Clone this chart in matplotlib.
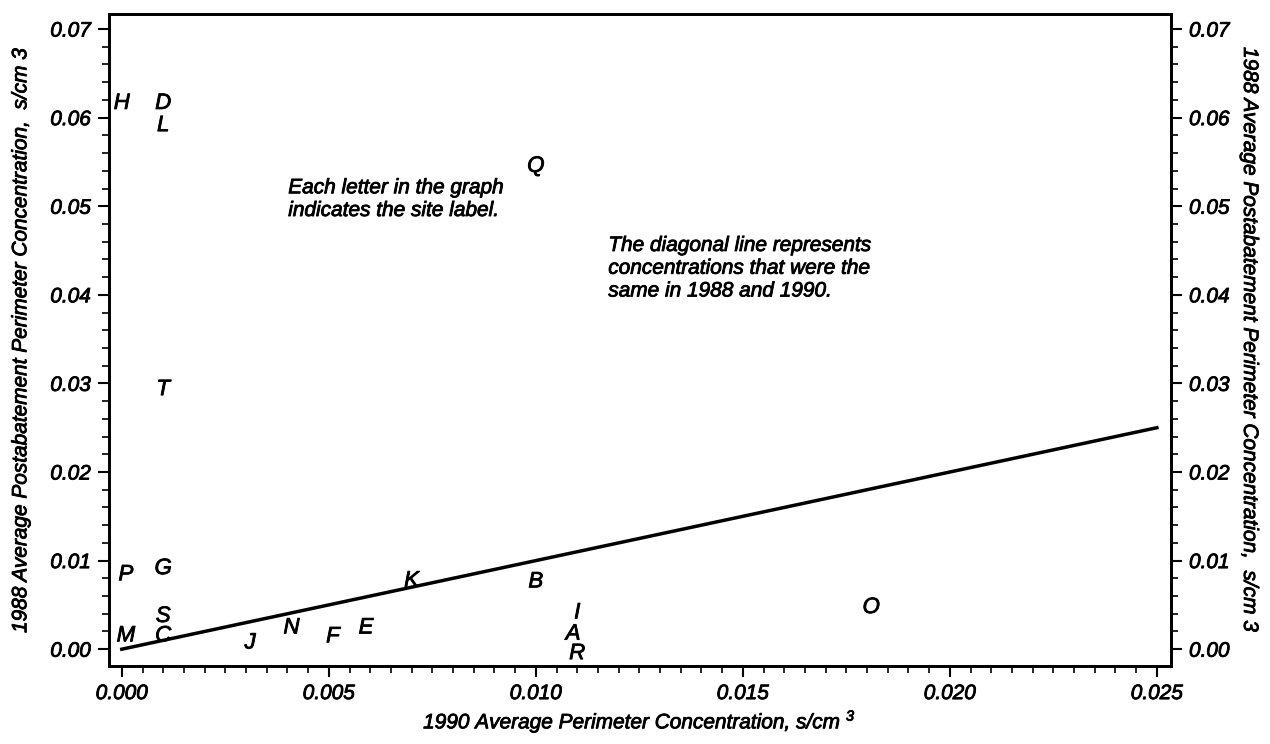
import matplotlib
matplotlib.use("Agg")
import matplotlib.pyplot as plt
import matplotlib.patheffects as pe
from matplotlib.ticker import MultipleLocator, FormatStrFormatter

plt.rcParams['font.family'] = ['Liberation Sans', 'DejaVu Sans']
plt.rcParams['font.style'] = 'italic'
plt.rcParams['mathtext.fontset'] = 'custom'
plt.rcParams['mathtext.rm'] = 'Liberation Sans:italic'
plt.rcParams['mathtext.it'] = 'Liberation Sans:italic'

# Site labels and concentrations (s/cm^3)
sites = ['H', 'D', 'L', 'Q', 'T', 'G', 'P', 'K', 'B', 'S', 'I', 'O',
         'M', 'C', 'N', 'E', 'F', 'J', 'A', 'R']
conc_1990 = [0.0000, 0.0010, 0.0010, 0.0100, 0.0010, 0.0010, 0.0001, 0.0070,
             0.0100, 0.0010, 0.0110, 0.0181, 0.0001, 0.0010, 0.0041, 0.0059,
             0.0051, 0.0031, 0.0109, 0.0110]
conc_1988 = [0.0616, 0.0616, 0.0591, 0.0545, 0.0293, 0.0091, 0.0084, 0.0077,
             0.0076, 0.0037, 0.0041, 0.0047, 0.0015, 0.0015, 0.0024, 0.0024,
             0.0014, 0.0007, 0.0017, -0.0005]
diag_x = [0.0, 0.025]
diag_y = [0.0, 0.025]

x_ticks = [0.000, 0.005, 0.010, 0.015, 0.020, 0.025]
y_ticks = [0.00, 0.01, 0.02, 0.03, 0.04, 0.05, 0.06, 0.07]

thick = [pe.withStroke(linewidth=0.6, foreground='black')]
FS = 15

fig = plt.figure(figsize=(12.7, 7.44), dpi=100)
ax = fig.add_axes([0.0858, 0.1048, 0.922 - 0.0858, 0.9812 - 0.1048])

ax.plot(diag_x, diag_y, color='black', lw=2.5)
for s, xv, yv in zip(sites, conc_1990, conc_1988):
    ax.text(xv, yv, s, fontsize=16, ha='center', va='center', color='black',
            path_effects=thick)

ax.set_xlim(-0.00031, 0.02534)
ax.set_ylim(-0.0019, 0.0717)
ax.set_xticks(x_ticks)
ax.set_yticks(y_ticks)
ax.xaxis.set_major_formatter(FormatStrFormatter('%.3f'))
ax.yaxis.set_major_formatter(FormatStrFormatter('%.2f'))
ax.xaxis.set_minor_locator(MultipleLocator(0.0005))
ax.yaxis.set_minor_locator(MultipleLocator(0.002))

for sp in ax.spines.values():
    sp.set_linewidth(2)

ax.tick_params(axis='both', which='major', direction='out', length=8, width=1.5,
               labelsize=FS, pad=5)
ax.tick_params(axis='both', which='minor', direction='out', length=5, width=1.2)
ax.tick_params(top=False, right=False, which='both')

ax2 = ax.twinx()
ax2.set_ylim(ax.get_ylim())
ax2.set_yticks(y_ticks)
ax2.yaxis.set_major_formatter(FormatStrFormatter('%.2f'))
ax2.yaxis.set_minor_locator(MultipleLocator(0.002))
ax2.tick_params(axis='y', which='major', direction='out', length=8, width=1.5,
                labelsize=FS, pad=5)
ax2.tick_params(axis='y', which='minor', direction='out', length=5, width=1.2)
for sp in ax2.spines.values():
    sp.set_linewidth(2)

for lab in ax.get_xticklabels() + ax.get_yticklabels() + ax2.get_yticklabels():
    lab.set_path_effects(thick)

ylab = '1988 Average Postabatement Perimeter Concentration,  s/cm 3'
ax.set_ylabel(ylab, fontsize=FS, path_effects=thick, va='center')
ax.yaxis.set_label_coords(-0.083, 0.5)
ax2.set_ylabel(ylab, fontsize=FS, rotation=270, path_effects=thick, va='center')
ax2.yaxis.set_label_coords(1.074, 0.5)
ax.set_xlabel('1990 Average Perimeter Concentration, s/cm $^{3}$', fontsize=FS,
              labelpad=4, path_effects=thick)

ax.text(0.00402, 0.0508, 'Each letter in the graph\nindicates the site label.',
        fontsize=FS, ha='left', va='center', linespacing=1.25, path_effects=thick)
ax.text(0.01175, 0.0430, 'The diagonal line represents\nconcentrations that were the\nsame in 1988 and 1990.',
        fontsize=FS, ha='left', va='center', linespacing=1.25, path_effects=thick)

fig.savefig('out.png', dpi=100)
